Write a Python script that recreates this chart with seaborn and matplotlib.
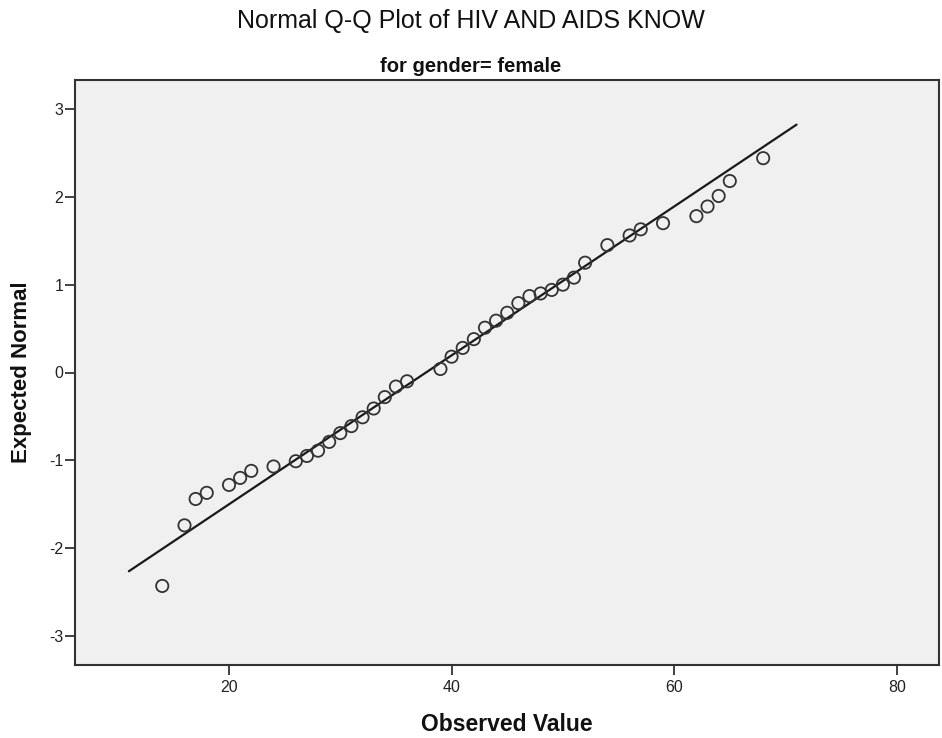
import numpy as np
import pandas as pd
import matplotlib
matplotlib.use("Agg")
import matplotlib.pyplot as plt
import seaborn as sns

observed = [14, 16, 17, 18, 20, 21, 22, 24, 26, 27, 28, 29, 30, 31, 32, 33, 34, 35, 36,
            39, 40, 41, 42, 43, 44, 45, 46, 47, 48, 49, 50, 51, 52, 54, 56, 57, 59,
            62, 63, 64, 65, 68]
expected = [-2.43, -1.74, -1.44, -1.37, -1.28, -1.20, -1.12, -1.07, -1.01, -0.95, -0.89,
            -0.79, -0.69, -0.61, -0.51, -0.41, -0.28, -0.16, -0.10,
            0.04, 0.18, 0.28, 0.38, 0.51, 0.59, 0.68, 0.79, 0.87, 0.90, 0.94, 1.00,
            1.08, 1.25, 1.45, 1.56, 1.63, 1.70, 1.78, 1.89, 2.01, 2.18, 2.44]
# Reference line parameters (normal mean / sd)
line_mean = 37.7
line_sd = 11.8

x_ticks = [20, 40, 60, 80]
y_ticks = [-3, -2, -1, 0, 1, 2, 3]

title = "Normal Q-Q Plot of HIV AND AIDS KNOW"
subtitle = "for gender= female"
xlabel = "Observed Value"
ylabel = "Expected Normal"

df = pd.DataFrame({"observed": observed, "expected": expected})
lx = np.array([min(observed) - 3, max(observed) + 3], dtype=float)
line_df = pd.DataFrame({"x": lx, "y": (lx - line_mean) / line_sd})

sns.set_style("white")
plt.rcParams["font.family"] = ["Liberation Sans", "DejaVu Sans"]
plt.rcParams["axes.unicode_minus"] = False

fig = plt.figure(figsize=(9.42, 7.38), dpi=100)
ax = fig.add_axes([75 / 942, 1 - 665 / 738, (939 - 75) / 942, (665 - 80) / 738])
ax.set_facecolor("#f0f0f0")

sns.lineplot(data=line_df, x="x", y="y", ax=ax, color="#1a1a1a", linewidth=1.6)
sns.scatterplot(data=df, x="observed", y="expected", ax=ax, marker="o", s=78,
                facecolor="none", edgecolor="#333333", linewidth=1.3, zorder=3)

ax.set_xlim(6.16, 83.8)
ax.set_ylim(-3.33, 3.33)
ax.set_xticks(x_ticks)
ax.set_yticks(y_ticks)
ax.tick_params(axis="both", which="both", direction="out", length=7.5, width=1.3,
               color="#333333", labelsize=11.5, labelcolor="#222222",
               bottom=True, left=True)
ax.tick_params(axis="x", pad=3)
ax.tick_params(axis="y", pad=1)
for s in ax.spines.values():
    s.set_color("#333333")
    s.set_linewidth(1.5)

ax.set_xlabel(xlabel, fontsize=16.5, fontweight="bold", labelpad=13, color="#111111")
ax.set_ylabel(ylabel, fontsize=16, fontweight="bold", labelpad=12, color="#111111")

fig.text(0.5, 1 - 21 / 738, title, ha="center", va="center", fontsize=18, color="#111111")
fig.text(0.5, 1 - 66 / 738, subtitle, ha="center", va="center", fontsize=14.5,
         fontweight="bold", color="#111111")

fig.savefig("out.png", dpi=100, facecolor="white")
